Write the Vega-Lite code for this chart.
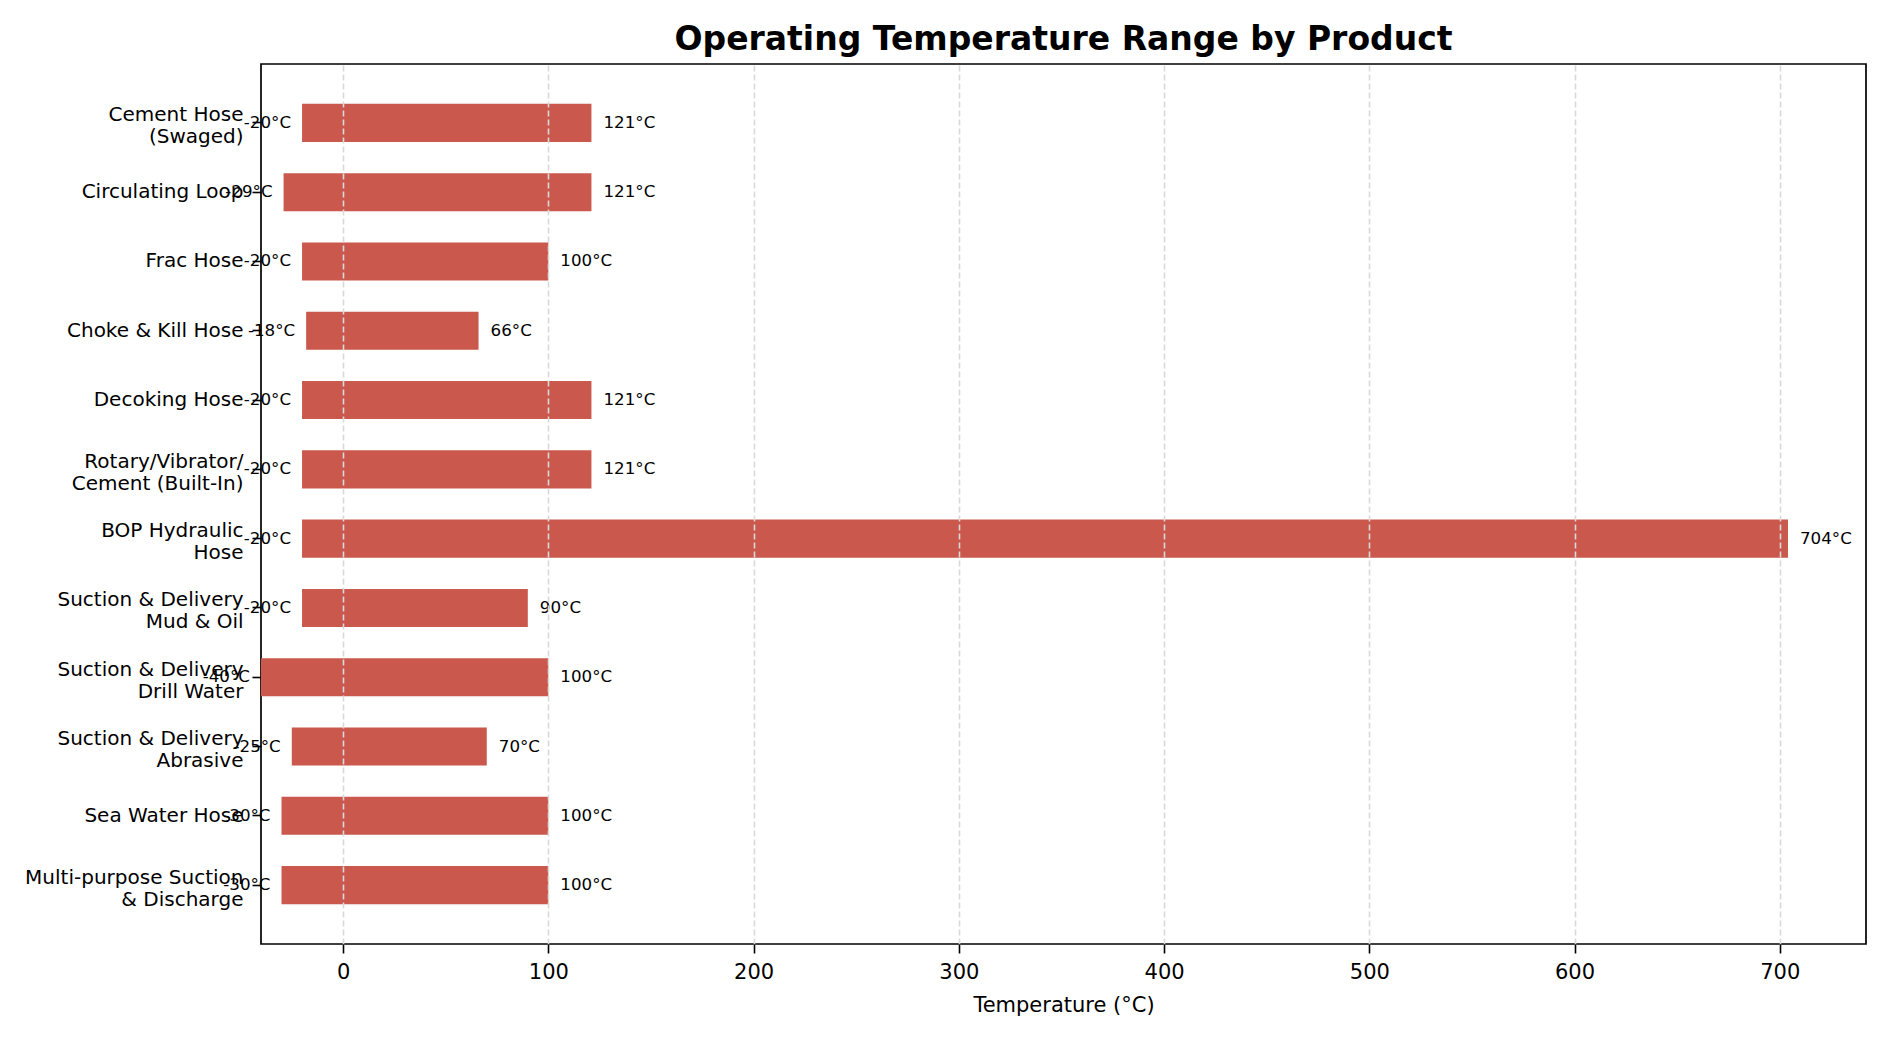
{
  "$schema": "https://vega.github.io/schema/vega-lite/v6.json",
  "width": 1605,
  "height": 880,
  "autosize": {"type": "none"},
  "padding": {"left": 261, "top": 64, "right": 24, "bottom": 100},
  "background": "white",
  "title": {
    "text": "Operating Temperature Range by Product",
    "font": "DejaVu Sans",
    "fontSize": 33,
    "fontWeight": "bold",
    "color": "black",
    "offset": 7
  },
  "data": {
    "values": [
      {"product": "Cement Hose\n(Swaged)", "min": -20, "max": 121},
      {"product": "Circulating Loop", "min": -29, "max": 121},
      {"product": "Frac Hose", "min": -20, "max": 100},
      {"product": "Choke & Kill Hose", "min": -18, "max": 66},
      {"product": "Decoking Hose", "min": -20, "max": 121},
      {"product": "Rotary/Vibrator/\nCement (Built-In)", "min": -20, "max": 121},
      {"product": "BOP Hydraulic\nHose", "min": -20, "max": 704},
      {"product": "Suction & Delivery\nMud & Oil", "min": -20, "max": 90},
      {"product": "Suction & Delivery\nDrill Water", "min": -40, "max": 100},
      {"product": "Suction & Delivery\nAbrasive", "min": -25, "max": 70},
      {"product": "Sea Water Hose", "min": -30, "max": 100},
      {"product": "Multi-purpose Suction\n& Discharge", "min": -30, "max": 100}
    ]
  },
  "transform": [
    {"calculate": "datum.min + '°C'", "as": "min_label"},
    {"calculate": "datum.max + '°C'", "as": "max_label"}
  ],
  "encoding": {
    "y": {
      "field": "product",
      "type": "nominal",
      "sort": null,
      "scale": {"paddingInner": 0.45, "paddingOuter": 0.575},
      "axis": {
        "title": null,
        "domain": false,
        "grid": false,
        "ticks": true,
        "tickSize": 9,
        "tickWidth": 1.6,
        "tickColor": "black",
        "labelPadding": 9,
        "labelLimit": 0,
        "labelFont": "DejaVu Sans",
        "labelFontSize": 20,
        "labelColor": "black",
        "labelLineHeight": 22,
        "labelOffset": {"condition": {"test": "indexof(datum.value, '\\n') >= 0", "value": -7.5}, "value": 0},
        "labelExpr": "split(datum.label, '\\n')"
      }
    }
  },
  "layer": [
    {
      "mark": {"type": "bar", "color": "#ca584c"},
      "encoding": {
        "x": {
          "field": "min",
          "type": "quantitative",
          "scale": {"domain": [-40, 742], "nice": false, "zero": false},
          "axis": {
            "title": "Temperature (°C)",
            "titleFont": "DejaVu Sans",
            "titleFontSize": 21,
            "titleFontWeight": "normal",
            "titleColor": "black",
            "titlePadding": 12,
            "values": [0, 100, 200, 300, 400, 500, 600, 700],
            "domain": false,
            "grid": true,
            "gridColor": "#d9d9d9",
            "gridWidth": 1.6,
            "gridDash": [6, 3],
            "tickSize": 9,
            "tickWidth": 1.6,
            "tickColor": "black",
            "labelPadding": 8,
            "labelFont": "DejaVu Sans",
            "labelFontSize": 21,
            "labelColor": "black",
            "zindex": 1
          }
        },
        "x2": {"field": "max"}
      }
    },
    {
      "mark": {"type": "rule", "color": "#808080", "strokeWidth": 1.6, "strokeDash": [2, 3]},
      "encoding": {"x": {"datum": 0}}
    },
    {
      "mark": {"type": "text", "align": "right", "baseline": "middle", "dx": -11, "font": "DejaVu Sans", "fontSize": 16.7, "color": "black"},
      "encoding": {
        "x": {"field": "min", "type": "quantitative"},
        "text": {"field": "min_label"}
      }
    },
    {
      "mark": {"type": "text", "align": "left", "baseline": "middle", "dx": 12, "font": "DejaVu Sans", "fontSize": 16.7, "color": "black"},
      "encoding": {
        "x": {"field": "max", "type": "quantitative"},
        "text": {"field": "max_label"}
      }
    }
  ],
  "config": {
    "view": {"stroke": "black", "strokeWidth": 1.7}
  }
}
